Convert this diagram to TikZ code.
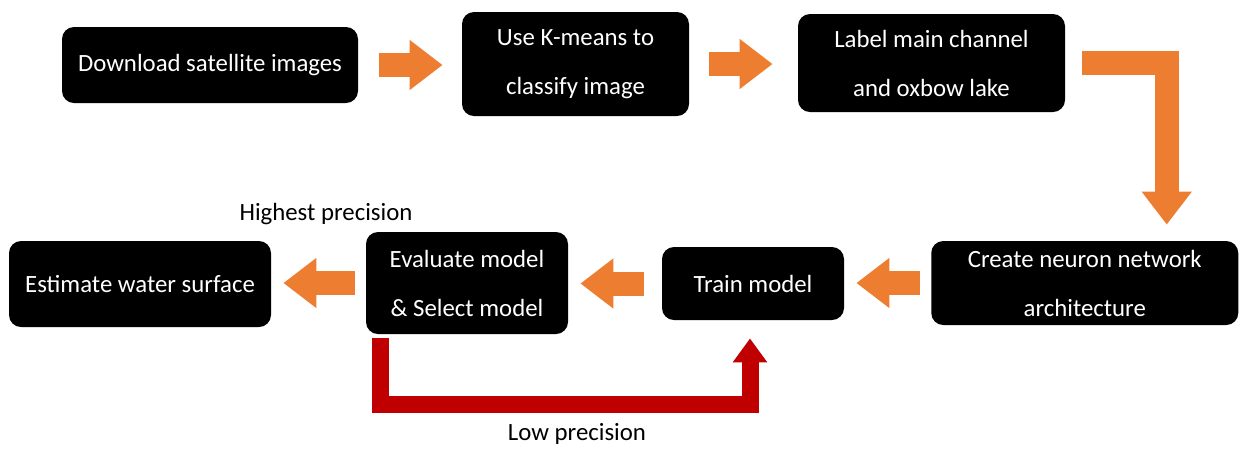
\documentclass[tikz,border=0pt]{standalone}
\usepackage{fontspec}
\setmainfont{Carlito}
\usetikzlibrary{arrows.meta}
\definecolor{orng}{HTML}{ED7D31}
\definecolor{dred}{HTML}{C00000}
\begin{document}
\begin{tikzpicture}[x=0.5pt,y=-0.5pt,
 box/.style={fill=black, rounded corners=6pt, text=white, align=center, inner sep=0pt, font=\fontsize{12.4}{24.5}\selectfont},
 oarrow/.style={draw=orng, line width=12pt, line join=miter, -{Triangle[width=24pt,length=16.5pt]}},
 rarrow/.style={draw=dred, line width=8.5pt, line join=miter, -{Triangle[width=16.5pt,length=12pt]}},
 lbl/.style={font=\fontsize{12.4}{15}\selectfont, inner sep=0pt}]
\useasboundingbox (0,0) rectangle (1239,452);
\node[box, minimum width=148pt, minimum height=38pt] (b1) at (210,65) {Download satellite images};
\node[box, minimum width=113.5pt, minimum height=52pt] (b2) at (575.5,64) {Use K-means to\\classify image};
\node[box, minimum width=133.5pt, minimum height=49pt] (b3) at (931.5,63) {Label main channel\\and oxbow lake};
\node[box, minimum width=153.5pt, minimum height=42pt] (b4) at (1084.75,283) {Create neuron network\\architecture};
\node[box, minimum width=91pt, minimum height=36.5pt] (b5) at (753,283.5) {Train model};
\node[box, minimum width=101pt, minimum height=51pt] (b6) at (467,283) {Evaluate model\\\& Select model};
\node[box, minimum width=131pt, minimum height=43pt] (b7) at (140,284) {Estimate water surface};
\node[lbl] (hp) at (326,214) {Highest precision};
\node[lbl] (lp) at (577,434) {Low precision};
\draw[oarrow, shorten <=10.5pt, shorten >=9.5pt] (b1.east) -- (b1.east -| b2.west);
\draw[oarrow, shorten <=10pt, shorten >=12.5pt] (b2.east) -- (b2.east -| b3.west);
\draw[oarrow, shorten <=8.5pt, shorten >=8pt] (b3.east) -| ([xshift=41pt]b4.north);
\draw[oarrow, shorten <=5.5pt, shorten >=6pt] (b4.west) -- (b4.west -| b5.east);
\draw[oarrow, shorten <=9pt, shorten >=6pt] (b5.west) -- (b5.west -| b6.east);
\draw[oarrow, shorten <=5.5pt, shorten >=6pt] (b6.west) -- (b6.west -| b7.east);
\draw[rarrow, shorten >=9pt] ([xshift=7.25pt,yshift=-2pt]b6.south west) |- ([xshift=-1.5pt,yshift=-42pt]b5.south) -- ([xshift=-1.5pt]b5.south);
\end{tikzpicture}
\end{document}
